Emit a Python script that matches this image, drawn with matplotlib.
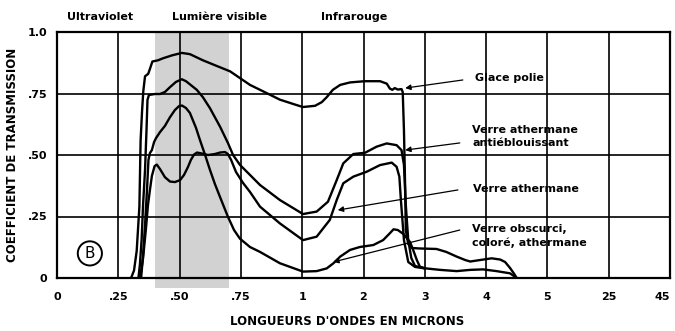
import numpy as np
import matplotlib
matplotlib.use("Agg")
import matplotlib.pyplot as plt

plt.rcParams['font.family'] = ['DejaVu Sans']
plt.rcParams['font.weight'] = 'bold'
plt.rcParams['axes.labelweight'] = 'bold'

# Wavelength axis: equally spaced ticks at uneven micron values
WL_TICKS = [0, 0.25, 0.50, 0.75, 1, 2, 3, 4, 5, 25, 45]
WL_TICK_LABELS = ["0", ".25", ".50", ".75", "1", "2", "3", "4", "5", "25", "45"]
Y_TICKS = [0, 0.25, 0.50, 0.75, 1.0]
Y_TICK_LABELS = ["0", ".25", ".50", ".75", "1.0"]

# Glace polie
polie_wl = [0.302, 0.314, 0.325, 0.336, 0.341, 0.347, 0.352, 0.359, 0.372, 0.379,
            0.389, 0.412, 0.432, 0.469, 0.509, 0.542, 0.595, 0.644, 0.706, 0.787,
            0.828, 0.909, 0.971, 1.01, 1.21, 1.32, 1.40, 1.50, 1.62, 1.78,
            2.02, 2.27, 2.38, 2.43, 2.47, 2.51, 2.56, 2.62, 2.64, 2.66,
            2.68, 2.69, 2.73, 2.79, 2.92, 3.19, 3.35, 3.52, 3.66, 3.74,
            3.90, 4.09, 4.23, 4.31, 4.39, 4.46, 4.50]
polie_t = [0.0, 0.03, 0.11, 0.29, 0.56, 0.68, 0.76, 0.82, 0.83, 0.85,
           0.88, 0.885, 0.893, 0.905, 0.915, 0.91, 0.885, 0.865, 0.84, 0.785,
           0.765, 0.725, 0.705, 0.695, 0.70, 0.715, 0.735, 0.765, 0.785, 0.795,
           0.80, 0.80, 0.79, 0.77, 0.765, 0.772, 0.766, 0.768, 0.756, 0.60,
           0.36, 0.195, 0.138, 0.122, 0.12, 0.118, 0.106, 0.087, 0.073, 0.067,
           0.073, 0.08, 0.075, 0.065, 0.041, 0.016, 0.0]

# Verre athermane antiéblouissant
anti_wl = [0.332, 0.338, 0.345, 0.351, 0.359, 0.365, 0.369, 0.375, 0.40, 0.42,
           0.44, 0.461, 0.485, 0.509, 0.526, 0.57, 0.595, 0.624, 0.665, 0.697,
           0.718, 0.746, 0.787, 0.828, 0.909, 1.013, 1.236, 1.42, 1.563, 1.67,
           1.834, 2.024, 2.215, 2.378, 2.54, 2.62, 2.66, 2.69, 2.73, 2.78,
           2.84, 2.98, 3.25, 3.52, 3.74, 3.95, 4.17, 4.39, 4.50]
anti_t = [0.0, 0.053, 0.154, 0.297, 0.439, 0.60, 0.724, 0.744, 0.748, 0.748,
          0.756, 0.776, 0.797, 0.808, 0.80, 0.765, 0.735, 0.69, 0.615, 0.549,
          0.50, 0.46, 0.419, 0.378, 0.317, 0.26, 0.27, 0.31, 0.398, 0.466,
          0.504, 0.509, 0.534, 0.547, 0.54, 0.52, 0.46, 0.297, 0.154, 0.081,
          0.049, 0.04, 0.033, 0.028, 0.033, 0.035, 0.028, 0.019, 0.0]

# Verre athermane
ath_wl = [0.339, 0.351, 0.363, 0.371, 0.379, 0.387, 0.398, 0.407, 0.42, 0.44,
          0.461, 0.481, 0.502, 0.518, 0.534, 0.546, 0.559, 0.571, 0.591, 0.616,
          0.644, 0.665, 0.685, 0.697, 0.71, 0.73, 0.759, 0.787, 0.828, 0.909,
          1.013, 1.236, 1.45, 1.563, 1.67, 1.834, 2.052, 2.269, 2.46, 2.54,
          2.585, 2.61, 2.66, 2.73, 2.84, 2.98]
ath_t = [0.0, 0.081, 0.203, 0.297, 0.358, 0.415, 0.455, 0.461, 0.443, 0.41,
         0.392, 0.39, 0.398, 0.419, 0.451, 0.48, 0.502, 0.51, 0.506, 0.50,
         0.504, 0.51, 0.512, 0.504, 0.48, 0.431, 0.386, 0.35, 0.29, 0.222,
         0.154, 0.168, 0.236, 0.317, 0.385, 0.412, 0.432, 0.459, 0.469, 0.452,
         0.412, 0.317, 0.154, 0.065, 0.045, 0.04]

# Verre obscurci, coloré, athermane
obs_wl = [0.343, 0.351, 0.359, 0.367, 0.373, 0.379, 0.387, 0.396, 0.404, 0.42,
          0.44, 0.461, 0.481, 0.498, 0.51, 0.526, 0.542, 0.567, 0.583, 0.604,
          0.624, 0.644, 0.665, 0.697, 0.722, 0.746, 0.787, 0.828, 0.909, 1.013,
          1.236, 1.40, 1.51, 1.62, 1.78, 1.94, 2.16, 2.32, 2.43, 2.49,
          2.56, 2.65, 2.76, 2.81, 2.87, 2.92, 3.0]
obs_t = [0.0, 0.093, 0.215, 0.358, 0.48, 0.508, 0.52, 0.553, 0.569, 0.593,
         0.618, 0.654, 0.683, 0.699, 0.701, 0.691, 0.671, 0.61, 0.561, 0.50,
         0.439, 0.382, 0.329, 0.249, 0.195, 0.16, 0.126, 0.106, 0.06, 0.026,
         0.028, 0.039, 0.06, 0.087, 0.114, 0.126, 0.134, 0.154, 0.182, 0.198,
         0.195, 0.179, 0.146, 0.114, 0.073, 0.046, 0.04]

POS = np.arange(len(WL_TICKS), dtype=float)


def wl_to_pos(x):
    return np.interp(x, WL_TICKS, POS)


def pos_to_wl(p):
    return np.interp(p, POS, WL_TICKS)


fig = plt.figure(figsize=(6.75, 3.31), dpi=100)
ax = fig.add_axes([57 / 675, 1 - 278 / 331, 613 / 675, 246 / 331])
ax.set_xscale('function', functions=(wl_to_pos, pos_to_wl))
ax.set_xlim(0, 45)
ax.set_ylim(0, 1.0)

# visible light band
ax.axvspan(0.40, 0.70, ymin=-0.04, ymax=1.0, color='#d2d2d2', lw=0,
           zorder=0.2, clip_on=False)

ax.set_axisbelow(True)
ax.grid(True, color='black', lw=1.2)
ax.set_xticks(WL_TICKS)
ax.set_xticklabels(WL_TICK_LABELS)
ax.xaxis.set_minor_locator(matplotlib.ticker.NullLocator())
ax.set_yticks(Y_TICKS)
ax.set_yticklabels(Y_TICK_LABELS)
ax.tick_params(axis='both', length=0, labelsize=8)
ax.tick_params(axis='x', pad=10)
ax.tick_params(axis='y', pad=7)
ax.get_xticklabels()[-1].set_horizontalalignment('right')
for s in ax.spines.values():
    s.set_linewidth(1.6)

for wl, t in [(polie_wl, polie_t), (anti_wl, anti_t), (ath_wl, ath_t), (obs_wl, obs_t)]:
    ax.plot(wl, t, color='black', lw=1.7, solid_joinstyle='round', zorder=3)

ax.set_xlabel("LONGUEURS D'ONDES EN MICRONS", fontsize=8.5, fontweight='bold')
ax.xaxis.label.set_verticalalignment('center')
ax.xaxis.set_label_coords((347 - 57) / 613, -0.178)
ax.set_ylabel("COEFFICIENT DE TRANSMISSION", fontsize=8.5, fontweight='bold',
              labelpad=6)

# spectral region headings
fig.text(100 / 675, 1 - 17 / 331, "Ultraviolet", ha='center', va='center', fontsize=8)
fig.text(219 / 675, 1 - 17 / 331, "Lumière visible", ha='center', va='center', fontsize=8)
fig.text(354 / 675, 1 - 17 / 331, "Infrarouge", ha='center', va='center', fontsize=8)

# curve callouts
arrow = dict(arrowstyle='-|>', color='black', lw=0.9, mutation_scale=8,
             shrinkA=0, shrinkB=0)
callouts = [
    ("Glace polie", (3.82, 0.813), (3.62, 0.805), (2.68, 0.772)),
    ("Verre athermane\nantiéblouissant", (3.77, 0.575), (3.57, 0.549), (2.68, 0.52)),
    ("Verre athermane", (3.79, 0.362), (3.54, 0.358), (1.58, 0.276)),
    ("Verre obscurci,\ncoloré, athermane", (3.77, 0.171), (3.57, 0.195), (1.505, 0.065)),
]
for label, txt_xy, start_xy, tip_xy in callouts:
    ax.annotate('', xy=tip_xy, xytext=start_xy, arrowprops=arrow, zorder=4)
    ax.text(txt_xy[0], txt_xy[1], label, ha='left', va='center', fontsize=8,
            linespacing=1.35, zorder=4)

ax.text(0.134, 0.10, "B", ha='center', va='center', fontsize=11,
        fontweight='normal',
        bbox=dict(boxstyle='circle,pad=0.3', fc='white', ec='black', lw=1.4),
        zorder=4)

fig.savefig("out.png", dpi=100)
